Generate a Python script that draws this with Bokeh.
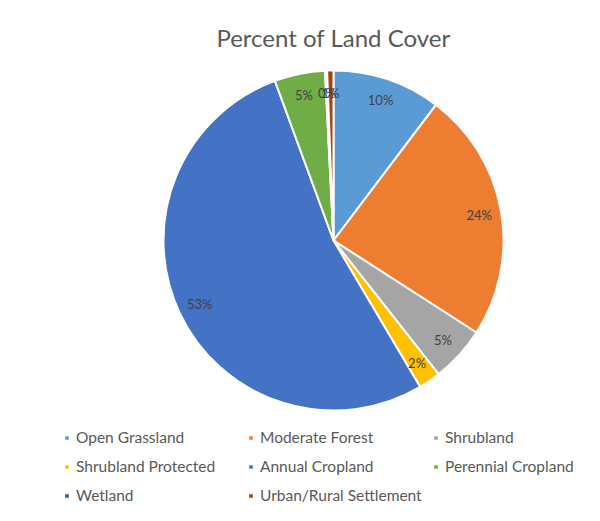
import math
from bokeh.plotting import figure
from bokeh.models import Range1d, Legend, LegendItem, ColumnDataSource, Label
from bokeh.embed import file_html
from bokeh.resources import INLINE
from bokeh.core.properties import value

title_text = "Percent of Land Cover"
categories = ["Open Grassland", "Moderate Forest", "Shrubland", "Shrubland Protected",
              "Annual Cropland", "Perennial Cropland", "Wetland", "Urban/Rural Settlement"]
percent = [10.3, 23.8, 5.3, 2.1, 52.9, 4.8, 0.2, 0.6]
colors = ["#5B9BD5", "#ED7D31", "#A5A5A5", "#FFC000", "#4472C4", "#70AD47", "#255E91", "#9E480E"]

W, H = 584, 505
CX, CY, R, LR = 333, 265, 170, 148
FONT = "Lato"

total = sum(percent)
starts, ends, lx, ly = [], [], [], []
c = 0.0
for v in percent:
    a0 = math.pi / 2 - 2 * math.pi * c / total
    c += v
    a1 = math.pi / 2 - 2 * math.pi * c / total
    starts.append(a0)
    ends.append(a1)
    m = (a0 + a1) / 2
    lx.append(CX + LR * math.cos(m))
    ly.append(CY + LR * math.sin(m))
labels = [f"{round(v / total * 100):.0f}%" for v in percent]

src = ColumnDataSource(dict(cat=categories, start=starts, end=ends, color=colors,
                            lx=lx, ly=ly, label=labels))

p = figure(width=W, height=H, x_range=Range1d(0, W), y_range=Range1d(0, H),
           output_backend="svg", toolbar_location=None, min_border=0,
           x_axis_location=None, y_axis_location=None, outline_line_color=None)
p.grid.visible = False

r = p.wedge(x=CX, y=CY, radius=R, start_angle="start", end_angle="end", direction="clock",
            fill_color="color", line_color="white", line_width=2, source=src)

p.text(x="lx", y="ly", text="label", source=src, text_align="center", text_baseline="middle",
       text_font=value(FONT), text_font_size="13px", text_color="#404040")

p.add_layout(Label(x=CX, y=468, text=title_text, text_align="center", text_baseline="middle",
                   text_font=FONT, text_font_size="24px", text_color="#595959"))

cols = [[0, 3, 6], [1, 4, 7], [2, 5]]
col_x = [63, 247, 432]
ITEM_H, GAP, TOP = 20, 9, 78
for idx, x0 in zip(cols, col_x):
    n = len(idx)
    hbox = n * ITEM_H + (n - 1) * GAP
    ybot = TOP - hbox
    lg = Legend(items=[LegendItem(label=categories[i], renderers=[r], index=i) for i in idx],
                location=(x0, ybot), orientation="vertical",
                glyph_width=7, glyph_height=7, label_standoff=6, label_height=ITEM_H, spacing=GAP,
                padding=0, margin=0, border_line_color=None, background_fill_alpha=0,
                label_text_font=FONT, label_text_font_size="15.5px", label_text_color="#595959")
    p.add_layout(lg)

open("out.html", "w").write(file_html(p, INLINE))
